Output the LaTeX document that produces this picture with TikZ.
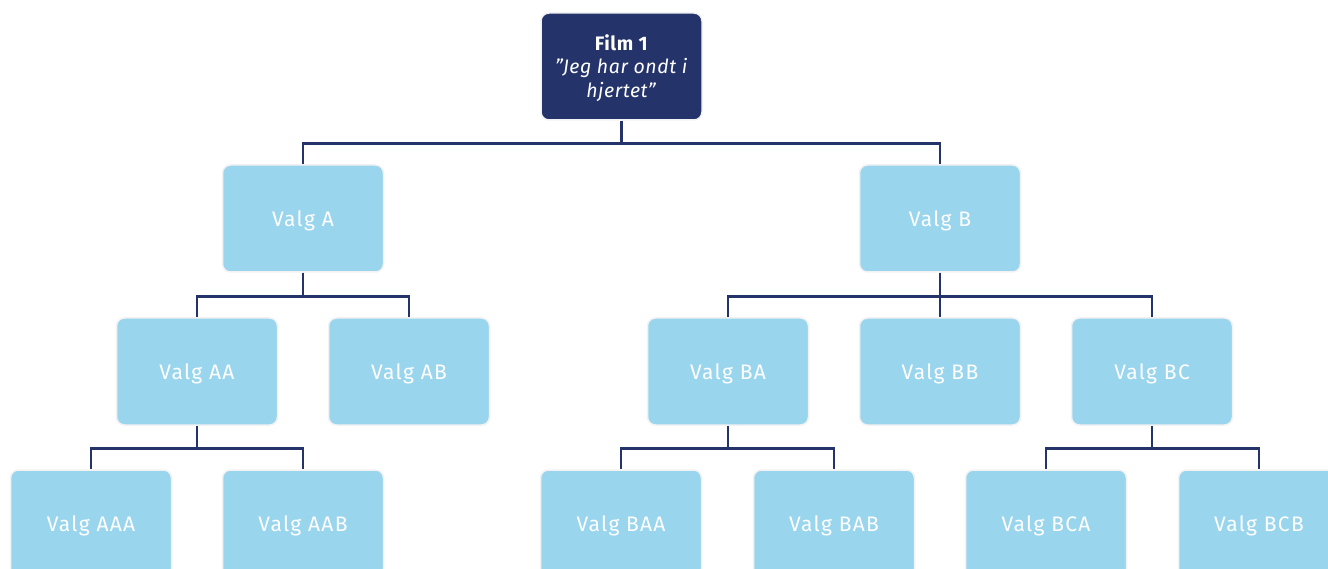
\documentclass[tikz,border=0pt]{standalone}
\usepackage{fontspec}
\setmainfont{Fira Sans}
\newfontfamily\boxfont[LetterSpace=6]{Fira Sans}
\newfontfamily\filmfont[LetterSpace=3]{Fira Sans}
\definecolor{navy}{HTML}{24336A}
\definecolor{lblue}{HTML}{9AD5EE}
\definecolor{edge}{HTML}{F2F2F4}
\begin{document}
\begin{tikzpicture}[x=1pt,y=-1pt,
  box/.style={rectangle,rounded corners=8pt,minimum width=161pt,minimum height=107pt,
    line width=1.5pt,draw=edge,text=white,align=center,inner sep=0pt},
  choice/.style={box,fill=lblue,font=\boxfont\fontsize{21}{24}\selectfont,text height=21.5pt,text depth=5pt},
  film/.style={box,fill=navy,font=\filmfont\fontsize{19.5}{24}\selectfont},
  link/.style={draw=navy,line width=2.6pt}]
\useasboundingbox (0,0) rectangle (1328,569);
\clip (0,0) rectangle (1328,569);
\node[film] (F) at (621.5,66.5) {\rule{0pt}{19pt}\textbf{Film 1}\\[-1pt]\textit{”Jeg har ondt i}\\\textit{hjertet”}};
\node[choice] (A) at (303,218.5) {Valg A};
\node[choice] (B) at (940,218.5) {Valg B};
\node[choice] (AA) at (197,371.5) {Valg AA};
\node[choice] (AB) at (409,371.5) {Valg AB};
\node[choice] (BA) at (728,371.5) {Valg BA};
\node[choice] (BB) at (940,371.5) {Valg BB};
\node[choice] (BC) at (1152,371.5) {Valg BC};
\node[choice] (AAA) at (91,523.5) {Valg AAA};
\node[choice] (AAB) at (303,523.5) {Valg AAB};
\node[choice] (BAA) at (621,523.5) {Valg BAA};
\node[choice] (BAB) at (834,523.5) {Valg BAB};
\node[choice] (BCA) at (1046,523.5) {Valg BCA};
\node[choice] (BCB) at (1259,523.5) {Valg BCB};
\begin{scope}[link]
\draw (F.south) -- ++(0,23) -| (A.north);
\draw (F.south) -- ++(0,23) -| (B.north);
\draw (A.south) -- ++(0,23.5) -| (AA.north);
\draw (A.south) -- ++(0,23.5) -| (AB.north);
\draw (B.south) -- ++(0,23.5) -| (BA.north);
\draw (B.south) -- ++(0,23.5) -| (BB.north);
\draw (B.south) -- ++(0,23.5) -| (BC.north);
\draw (AA.south) -- ++(0,23) -| (AAA.north);
\draw (AA.south) -- ++(0,23) -| (AAB.north);
\draw (BA.south) -- ++(0,23) -| (BAA.north);
\draw (BA.south) -- ++(0,23) -| (BAB.north);
\draw (BC.south) -- ++(0,23) -| (BCA.north);
\draw (BC.south) -- ++(0,23) -| (BCB.north);
\end{scope}
\end{tikzpicture}
\end{document}
